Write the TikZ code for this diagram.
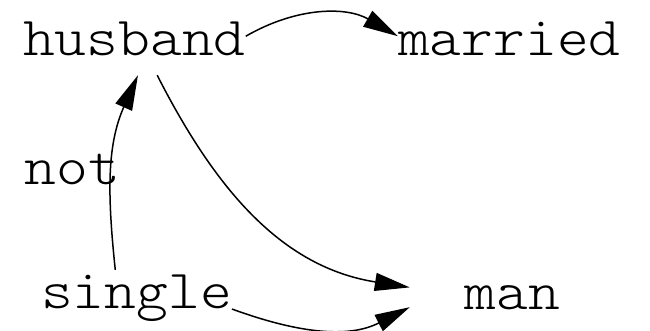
\documentclass[tikz,border=0pt]{standalone}
\usepackage{fontspec}
\usepackage{tikz}
\usetikzlibrary{arrows.meta}
\newfontfamily\wordfont[FakeStretch=1.1]{lmmonolt10-regular.otf}

\begin{document}
\begin{tikzpicture}[x=1pt,y=1pt,
  word/.style={font=\wordfont\fontsize{55}{60}\selectfont,
    inner sep=0pt, text height=38pt, text depth=20pt},
  link/.style={line width=1.5pt, -{Triangle[length=35pt,width=18pt]}}]
  \useasboundingbox (0,0) rectangle (650,-330);
  \node[word, anchor=base west] (husband) at (23,-55) {husband};
  \node[word, anchor=base west] (married) at (398,-55) {married};
  \node[word, anchor=base west] (single) at (41,-308) {single};
  \node[word, anchor=base, minimum width=205pt] (man) at (512.5,-309) {man};
  \draw[link] (husband.5) to[out=30,in=150] (married.175);
  \draw[link] (husband.-52) to[out=-63,in=171] (man.173);
  \draw[link] (single.126) to[out=96,in=246]
    node[word, pos=0.42, anchor=base east, xshift=10pt] (notlabel) {not}
    (husband.-83);
  \draw[link] (single.-6) to[out=-20,in=207] (man.184);
\end{tikzpicture}
\end{document}
